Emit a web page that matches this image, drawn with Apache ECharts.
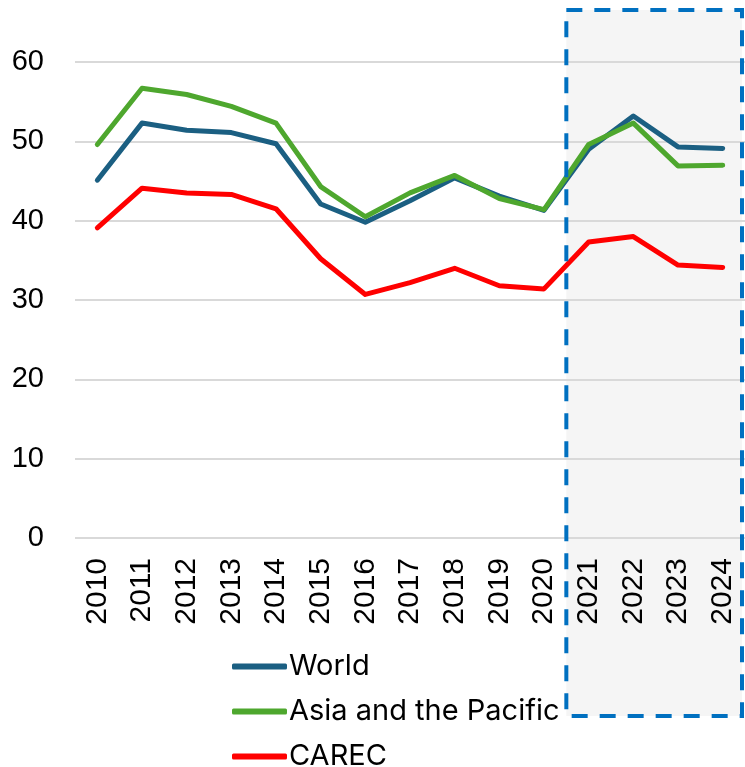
<!DOCTYPE html>
<html>
<head>
<meta charset="utf-8">
<script src="https://cdn.jsdelivr.net/npm/echarts@6/dist/echarts.min.js"></script>
<style>
  html, body { margin: 0; padding: 0; background: #fff; }
  #main { width: 745px; height: 767px; }
</style>
</head>
<body>
<div id="main"></div>
<script>
var years = ['2010', '2011', '2012', '2013', '2014', '2015', '2016', '2017', '2018', '2019', '2020', '2021', '2022', '2023', '2024'];
var world = [45.1, 52.3, 51.4, 51.1, 49.7, 42.1, 39.8, 42.5, 45.4, 43.1, 41.3, 49.0, 53.2, 49.3, 49.1];
var asiaPacific = [49.6, 56.7, 55.9, 54.4, 52.3, 44.3, 40.5, 43.5, 45.7, 42.8, 41.4, 49.6, 52.3, 46.9, 47.0];
var carec = [39.1, 44.1, 43.5, 43.3, 41.5, 35.2, 30.7, 32.2, 34.0, 31.8, 31.4, 37.3, 38.0, 34.4, 34.1];
var yTicks = [0, 10, 20, 30, 40, 50, 60];
var shadeFrom = '2021';

var chart = echarts.init(document.getElementById('main'));

function lineSeries(name, data, color) {
  return {
    name: name,
    type: 'line',
    data: data,
    symbol: 'none',
    smooth: false,
    z: 5,
    lineStyle: { width: 5, color: color, cap: 'round', join: 'round' },
    itemStyle: { color: color }
  };
}

var option = {
  backgroundColor: '#fff',
  animation: false,
  grid: {
    left: 75,
    right: -5,
    top: 62,
    bottom: 229
  },
  legend: {
    orient: 'vertical',
    left: 232,
    top: 652,
    height: 140,
    padding: 0,
    icon: 'roundRect',
    itemWidth: 55,
    itemHeight: 6,
    itemGap: 16,
    textStyle: {
      fontFamily: 'Inter, "Open Sans", sans-serif',
      fontSize: 29,
      lineHeight: 28,
      color: '#000',
      padding: [0, 0, 0, -3]
    },
    data: ['World', 'Asia and the Pacific', 'CAREC']
  },
  xAxis: {
    type: 'category',
    data: years,
    boundaryGap: true,
    axisLine: { show: false },
    axisTick: { show: false },
    axisLabel: {
      rotate: 90,
      interval: 0,
      margin: 20,
      fontFamily: '"Liberation Sans", Arial, sans-serif',
      fontSize: 30,
      color: '#000'
    }
  },
  yAxis: {
    type: 'value',
    min: yTicks[0],
    max: yTicks[yTicks.length - 1],
    interval: 10,
    axisLine: { show: false },
    axisTick: { show: false },
    axisLabel: {
      margin: 31,
      fontFamily: '"Liberation Sans", Arial, sans-serif',
      fontSize: 29,
      color: '#000'
    },
    splitLine: { lineStyle: { color: '#d9d9d9', width: 2 } }
  },
  series: [
    lineSeries('World', world, '#1b5f82'),
    lineSeries('Asia and the Pacific', asiaPacific, '#4ea72e'),
    lineSeries('CAREC', carec, '#ff0000')
  ]
};

chart.setOption(option);

// shaded projection box: left edge at the band boundary before the first shaded year
var idx = years.indexOf(shadeFrom);
var xPrev = chart.convertToPixel({ xAxisIndex: 0 }, years[idx - 1]);
var xCur = chart.convertToPixel({ xAxisIndex: 0 }, years[idx]);
var boxLeft = (xPrev + xCur) / 2;
var boxRight = 742;
var boxTop = 10;
var boxBottom = 716;

chart.setOption({
  graphic: [
    {
      type: 'rect',
      z: -1,
      silent: true,
      shape: { x: boxLeft, y: boxTop, width: boxRight - boxLeft, height: boxBottom - boxTop },
      style: { fill: '#f5f5f5', stroke: null }
    },
    {
      type: 'rect',
      z: 100,
      silent: true,
      shape: { x: boxLeft, y: boxTop, width: boxRight - boxLeft, height: boxBottom - boxTop },
      style: { fill: null, stroke: '#0070c0', lineWidth: 4, lineDash: [16, 12] }
    }
  ]
});

window.addEventListener('resize', function () {
  chart.resize();
});
</script>
</body>
</html>
